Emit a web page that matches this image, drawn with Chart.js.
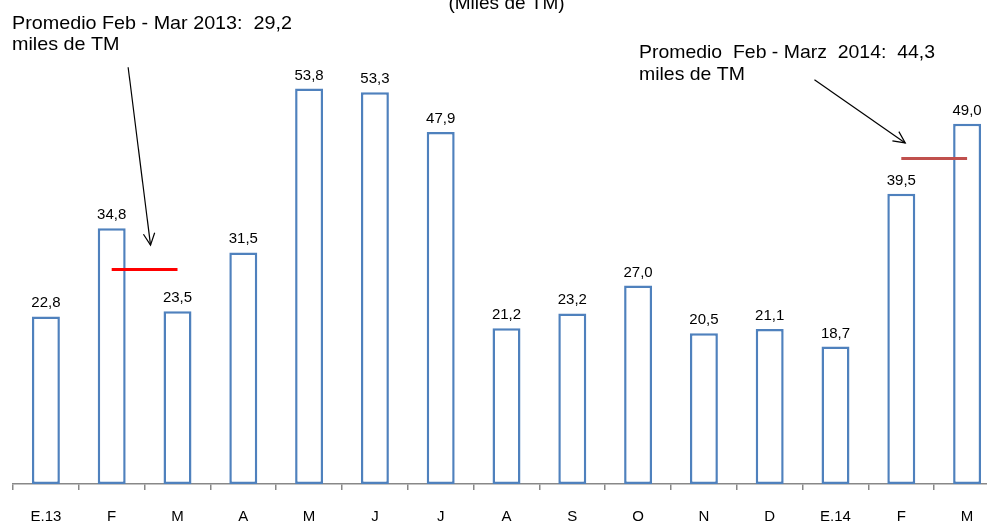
<!DOCTYPE html>
<html>
<head>
<meta charset="utf-8">
<script src="https://cdn.jsdelivr.net/npm/chart.js@4.4.1/dist/chart.umd.min.js"></script>
<style>
html,body{margin:0;padding:0;background:#fff;overflow:hidden;}
#wrap{width:1000px;height:523px;}
</style>
</head>
<body>
<div id="wrap"><canvas id="c" width="1000" height="523"></canvas></div>
<script>
const categories = ['E.13','F','M','A','M','J','J','A','S','O','N','D','E.14','F','M'];
const values = [22.8,34.8,23.5,31.5,53.8,53.3,47.9,21.2,23.2,27.0,20.5,21.1,18.7,39.5,49.0];
const titleText = '(Miles de TM)';
const avg2013 = {from:1, to:2, value:29.2, color:'#ff0000'};
const avg2014 = {from:13, to:14, value:44.3, color:'#c0504d'};
const note2013 = ['Promedio Feb - Mar 2013:  29,2', 'miles de TM'];
const note2014 = ['Promedio  Feb - Marz  2014:  44,3', 'miles de TM'];
// arrows in (category index, value) coordinates
const arrow2013 = {x1:1.25, y1:56.7, x2:1.59, y2:32.5};
const arrow2014 = {x1:11.68, y1:55.0, x2:13.06, y2:46.4};

const fmt = v => v.toFixed(1).replace('.', ',');

const overlay = {
  id:'overlay',
  afterDatasetsDraw(chart){
    const ctx = chart.ctx, xs = chart.scales.x, ys = chart.scales.y;
    const xi = i => xs.getPixelForValue(0) + i * (xs.getPixelForValue(1) - xs.getPixelForValue(0));
    ctx.save();
    // data labels
    ctx.fillStyle = '#000';
    ctx.font = '15px "Liberation Sans", Arial, sans-serif';
    ctx.textAlign = 'center';
    ctx.textBaseline = 'alphabetic';
    chart.getDatasetMeta(0).data.forEach((bar, i) => {
      ctx.fillText(fmt(values[i]), bar.x, bar.y - 9);
    });
    // average lines
    [avg2013, avg2014].forEach(a => {
      ctx.strokeStyle = a.color;
      ctx.lineWidth = 3;
      ctx.beginPath();
      const y = ys.getPixelForValue(a.value);
      ctx.moveTo(xi(a.from), y);
      ctx.lineTo(xi(a.to), y);
      ctx.stroke();
    });
    // arrows
    [arrow2013, arrow2014].forEach(a => {
      const x1 = xi(a.x1), y1 = ys.getPixelForValue(a.y1);
      const x2 = xi(a.x2), y2 = ys.getPixelForValue(a.y2);
      ctx.strokeStyle = '#000';
      ctx.lineWidth = 1.2;
      ctx.beginPath();
      ctx.moveTo(x1, y1); ctx.lineTo(x2, y2); ctx.stroke();
      const ang = Math.atan2(y2 - y1, x2 - x1), L = 13, s = 0.45;
      ctx.beginPath();
      ctx.moveTo(x2 - L*Math.cos(ang - s), y2 - L*Math.sin(ang - s));
      ctx.lineTo(x2, y2);
      ctx.lineTo(x2 - L*Math.cos(ang + s), y2 - L*Math.sin(ang + s));
      ctx.stroke();
    });
    // notes
    const drawNote = (lines, x, y0, lh, w1) => {
      ctx.font = '19px "Liberation Sans", Arial, sans-serif';
      ctx.textAlign = 'left';
      ctx.fillStyle = '#000';
      const m = ctx.measureText(lines[0]).width;
      const sx = w1 / m;
      lines.forEach((t, k) => {
        ctx.save();
        ctx.translate(x, y0 + k*lh);
        ctx.scale(sx, 1);
        ctx.fillText(t, 0, 0);
        ctx.restore();
      });
    };
    drawNote(note2013, 12, 29, 21, 280);
    drawNote(note2014, 639, 58, 22, 296);
    // title (cut at top)
    ctx.font = '19px "Liberation Sans", Arial, sans-serif';
    ctx.textAlign = 'center';
    ctx.fillText(titleText, (chart.chartArea.left + chart.chartArea.right)/2, 9);
    ctx.restore();
  }
};

new Chart(document.getElementById('c'), {
  type:'bar',
  data:{
    labels: categories,
    datasets:[{
      data: values,
      backgroundColor:'#ffffff',
      borderColor:'#4f81bd',
      borderWidth:2.5,
      borderSkipped:false,
      categoryPercentage:1,
      barPercentage:0.425
    }]
  },
  options:{
    responsive:false,
    animation:false,
    layout:{padding:{left:13, right:0, top:43, bottom:-21}},
    plugins:{legend:{display:false}, tooltip:{enabled:false}, title:{display:false}},
    scales:{
      y:{display:false, min:0, max:60},
      x:{
        offset:true,
        grid:{display:true, drawOnChartArea:false, drawTicks:true, tickLength:6, color:'#888888', offset:true, lineWidth:1.5},
        border:{display:true, color:'#888888', width:1.5},
        ticks:{color:'#000', font:{family:'"Liberation Sans", Arial, sans-serif', size:15}, padding:18, maxRotation:0, autoSkip:false}
      }
    }
  },
  plugins:[overlay]
});
</script>
</body>
</html>
